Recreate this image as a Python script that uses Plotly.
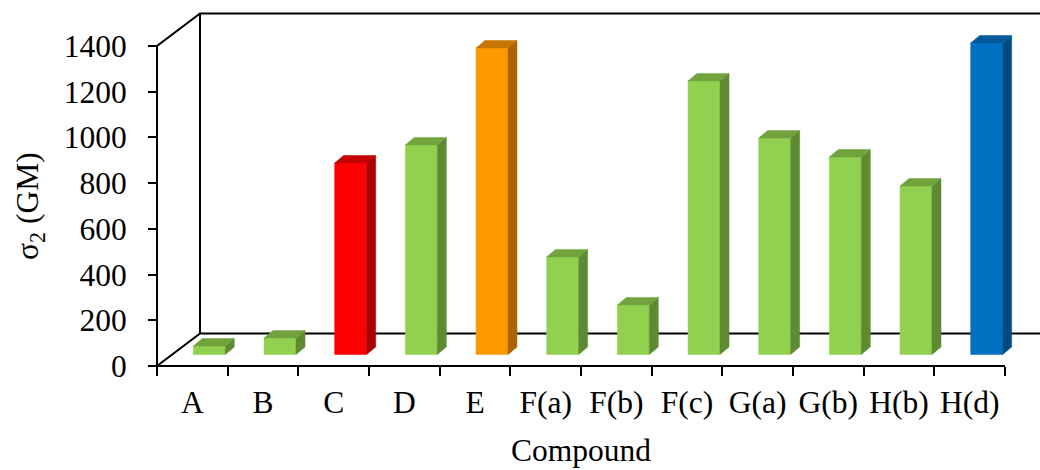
import plotly.graph_objects as go

# ---------------- data ----------------
categories = ["A", "B", "C", "D", "E", "F(a)", "F(b)", "F(c)", "G(a)", "G(b)", "H(b)", "H(d)"]
sigma2_gm = [37, 72, 838, 917, 1341, 427, 217, 1197, 947, 864, 737, 1363]
bar_color_group = ["green", "green", "red", "green", "orange", "green", "green",
                   "green", "green", "green", "green", "blue"]
y_tick_values = [0, 200, 400, 600, 800, 1000, 1200, 1400]
y_axis_max = 1400
x_title = "Compound"
y_title = "σ<sub>2</sub> (GM)"

palette = {  # front, side, top
    "green": ("#92D050", "#5E8B32", "#71A23D"),
    "red": ("#FF0000", "#A80000", "#C40000"),
    "orange": ("#FF9900", "#A86500", "#C47600"),
    "blue": ("#0070C0", "#004B80", "#005A9C"),
}

# ---------------- geometry (pixels) ----------------
FIG_W, FIG_H = 1040, 470
M_L, M_R, M_T, M_B = 150, 0, 8, 100
ORIGIN_X_PX, ORIGIN_Y_PX = 157, 366
CAT_PX = (1005 - 157) / len(categories)
VAL_PX = 320 / 1400
WALL_DX_PX, WALL_DY_PX = 43, 32.5
BAR_SHIFT_X_PX, BAR_SHIFT_Y_PX = 17, 11.5
BAR_W_PX = 32
BAR_DX_PX, BAR_DY_PX = 9, 7.5
FONT_SIZE = 31.5
XTITLE_BOTTOM_PX = 469
YTITLE_CX_PX, YTITLE_CY_PX = 30, 206

plot_w = FIG_W - M_L - M_R
plot_h = FIG_H - M_T - M_B
x_range = [(M_L - ORIGIN_X_PX) / CAT_PX, (FIG_W - M_R - ORIGIN_X_PX) / CAT_PX]
y_range = [-(FIG_H - M_B - ORIGIN_Y_PX) / VAL_PX, (ORIGIN_Y_PX - M_T) / VAL_PX]


def paper_x(px):
    return (px - M_L) / plot_w


def paper_y(py):
    return (FIG_H - M_B - py) / plot_h


wdx, wdy = WALL_DX_PX / CAT_PX, WALL_DY_PX / VAL_PX
sx, sy = BAR_SHIFT_X_PX / CAT_PX, BAR_SHIFT_Y_PX / VAL_PX
bw = BAR_W_PX / CAT_PX
bdx, bdy = BAR_DX_PX / CAT_PX, BAR_DY_PX / VAL_PX
n = len(categories)

fig = go.Figure()

# ---------------- walls / frame lines ----------------
xr = x_range[1] + 1
frame_x = [0, n, None, 0, 0, wdx, xr, None, 0, wdx, xr, None, wdx, wdx]
frame_y = [0, 0, None, 0, y_axis_max, y_axis_max + wdy, y_axis_max + wdy, None,
           0, wdy, wdy, None, wdy, y_axis_max + wdy]
fig.add_trace(go.Scatter(x=frame_x, y=frame_y, mode="lines",
                         line=dict(color="black", width=2),
                         hoverinfo="skip", showlegend=False))

# ---------------- 3D bars ----------------
for i, (cat, v, grp) in enumerate(zip(categories, sigma2_gm, bar_color_group)):
    front_c, side_c, top_c = palette[grp]
    cx = i + 0.5 + sx
    x0, x1 = cx - bw / 2, cx + bw / 2
    yb, yt = sy, sy + v
    faces = [
        ([x0, x1, x1, x0, x0], [yb, yb, yt, yt, yb], front_c),
        ([x1, x1 + bdx, x1 + bdx, x1, x1], [yb, yb + bdy, yt + bdy, yt, yb], side_c),
        ([x0, x1, x1 + bdx, x0 + bdx, x0], [yt, yt, yt + bdy, yt + bdy, yt], top_c),
    ]
    for fx, fy, col in faces:
        fig.add_trace(go.Scatter(x=fx, y=fy, mode="lines", fill="toself",
                                 fillcolor=col, line=dict(color=col, width=0.5),
                                 name=cat, hoverinfo="skip", showlegend=False))

font_family = "Liberation Serif"
fig.update_layout(
    width=FIG_W, height=FIG_H,
    margin=dict(l=M_L, r=M_R, t=M_T, b=M_B),
    paper_bgcolor="white", plot_bgcolor="white",
    font=dict(family=font_family, size=FONT_SIZE, color="black"),
    showlegend=False,
    xaxis=dict(
        range=x_range, anchor="free",
        position=paper_y(ORIGIN_Y_PX),
        showgrid=False, zeroline=False, showline=False,
        tickmode="array",
        tickvals=[i + 0.5 for i in range(n)], ticktext=categories,
        ticks="", ticklabelstandoff=14,
        tickfont=dict(size=FONT_SIZE),
        minor=dict(tickmode="array", tickvals=list(range(n + 1)), ticks="outside",
                   ticklen=9, tickwidth=2, tickcolor="black", showgrid=False),
        fixedrange=True,
    ),
    yaxis=dict(
        range=y_range, anchor="free",
        position=paper_x(ORIGIN_X_PX),
        showgrid=False, zeroline=False, showline=False,
        tickmode="array", tickvals=y_tick_values,
        ticks="outside", ticklen=9, tickwidth=2, tickcolor="black",
        ticklabelstandoff=15, tickfont=dict(size=FONT_SIZE),
        fixedrange=True,
    ),
    annotations=[
        dict(text=x_title, x=n / 2, xref="x", y=paper_y(XTITLE_BOTTOM_PX), yref="paper",
             xanchor="center", yanchor="bottom", showarrow=False, borderpad=0,
             font=dict(size=FONT_SIZE, family=font_family, color="black")),
        dict(text=y_title, x=paper_x(YTITLE_CX_PX), xref="paper",
             y=paper_y(YTITLE_CY_PX), yref="paper", textangle=-90,
             xanchor="center", yanchor="middle", showarrow=False,
             font=dict(size=FONT_SIZE, family=font_family, color="black")),
    ],
)

fig.write_html("out.html")
